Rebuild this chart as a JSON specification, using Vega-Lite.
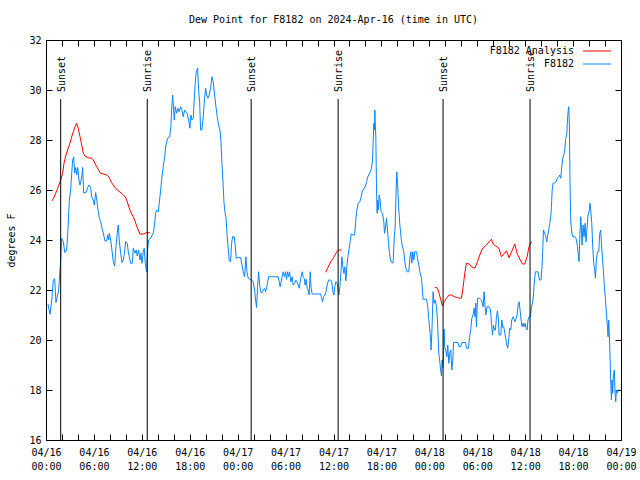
{
  "$schema": "https://vega.github.io/schema/vega-lite/v6.json",
  "autosize": "none",
  "width": 575,
  "height": 400,
  "padding": {"left": 46, "top": 40, "right": 19, "bottom": 40},
  "background": "white",
  "title": {"text": "Dew Point for F8182 on 2024-Apr-16 (time in UTC)", "font": "DejaVu Sans Mono", "fontSize": 10, "fontWeight": "normal", "anchor": "middle", "offset": 10, "color": "black"},
  "config": {
    "view": {"stroke": "black", "strokeWidth": 1},
    "axis": {"domainColor": "black", "tickColor": "black", "labelColor": "black", "titleColor": "black", "labelFont": "DejaVu Sans Mono", "labelFontSize": 10, "titleFont": "DejaVu Sans Mono", "titleFontSize": 10, "titleFontWeight": "normal", "grid": false, "labelOverlap": false, "labelFlush": false, "labelBound": false}
  },
  "resolve": {"axis": {"x": "independent", "y": "independent"}},
  "layer": [
    {
      "data": {"values": [
        {"hour":0.25,"dp":21.44,"series":"F8182","seg":"b"},
        {"hour":0.50,"dp":21.03,"series":"F8182","seg":"b"},
        {"hour":0.75,"dp":21.68,"series":"F8182","seg":"b"},
        {"hour":0.91,"dp":22.40,"series":"F8182","seg":"b"},
        {"hour":1.09,"dp":22.45,"series":"F8182","seg":"b"},
        {"hour":1.25,"dp":21.50,"series":"F8182","seg":"b"},
        {"hour":1.41,"dp":21.73,"series":"F8182","seg":"b"},
        {"hour":1.59,"dp":22.00,"series":"F8182","seg":"b"},
        {"hour":1.66,"dp":22.36,"series":"F8182","seg":"b"},
        {"hour":1.84,"dp":23.20,"series":"F8182","seg":"b"},
        {"hour":1.96,"dp":24.07,"series":"F8182","seg":"b"},
        {"hour":2.17,"dp":23.93,"series":"F8182","seg":"b"},
        {"hour":2.34,"dp":23.50,"series":"F8182","seg":"b"},
        {"hour":2.59,"dp":23.60,"series":"F8182","seg":"b"},
        {"hour":2.75,"dp":24.40,"series":"F8182","seg":"b"},
        {"hour":2.92,"dp":25.60,"series":"F8182","seg":"b"},
        {"hour":3.09,"dp":26.00,"series":"F8182","seg":"b"},
        {"hour":3.22,"dp":26.67,"series":"F8182","seg":"b"},
        {"hour":3.34,"dp":27.20,"series":"F8182","seg":"b"},
        {"hour":3.47,"dp":27.33,"series":"F8182","seg":"b"},
        {"hour":3.59,"dp":26.68,"series":"F8182","seg":"b"},
        {"hour":3.72,"dp":26.90,"series":"F8182","seg":"b"},
        {"hour":3.84,"dp":26.60,"series":"F8182","seg":"b"},
        {"hour":3.97,"dp":26.90,"series":"F8182","seg":"b"},
        {"hour":4.13,"dp":26.40,"series":"F8182","seg":"b"},
        {"hour":4.26,"dp":26.20,"series":"F8182","seg":"b"},
        {"hour":4.47,"dp":26.50,"series":"F8182","seg":"b"},
        {"hour":4.59,"dp":26.90,"series":"F8182","seg":"b"},
        {"hour":4.72,"dp":25.88,"series":"F8182","seg":"b"},
        {"hour":5.01,"dp":25.90,"series":"F8182","seg":"b"},
        {"hour":5.22,"dp":26.10,"series":"F8182","seg":"b"},
        {"hour":5.38,"dp":26.20,"series":"F8182","seg":"b"},
        {"hour":5.59,"dp":26.10,"series":"F8182","seg":"b"},
        {"hour":5.72,"dp":25.73,"series":"F8182","seg":"b"},
        {"hour":5.92,"dp":25.60,"series":"F8182","seg":"b"},
        {"hour":6.05,"dp":25.40,"series":"F8182","seg":"b"},
        {"hour":6.22,"dp":25.90,"series":"F8182","seg":"b"},
        {"hour":6.38,"dp":25.55,"series":"F8182","seg":"b"},
        {"hour":6.55,"dp":25.13,"series":"F8182","seg":"b"},
        {"hour":6.67,"dp":24.90,"series":"F8182","seg":"b"},
        {"hour":6.85,"dp":24.73,"series":"F8182","seg":"b"},
        {"hour":7.01,"dp":24.48,"series":"F8182","seg":"b"},
        {"hour":7.17,"dp":24.28,"series":"F8182","seg":"b"},
        {"hour":7.38,"dp":23.96,"series":"F8182","seg":"b"},
        {"hour":7.60,"dp":23.96,"series":"F8182","seg":"b"},
        {"hour":7.72,"dp":24.20,"series":"F8182","seg":"b"},
        {"hour":7.85,"dp":24.00,"series":"F8182","seg":"b"},
        {"hour":7.92,"dp":24.27,"series":"F8182","seg":"b"},
        {"hour":8.10,"dp":24.00,"series":"F8182","seg":"b"},
        {"hour":8.26,"dp":23.60,"series":"F8182","seg":"b"},
        {"hour":8.42,"dp":23.13,"series":"F8182","seg":"b"},
        {"hour":8.60,"dp":22.96,"series":"F8182","seg":"b"},
        {"hour":8.76,"dp":23.73,"series":"F8182","seg":"b"},
        {"hour":8.92,"dp":24.27,"series":"F8182","seg":"b"},
        {"hour":9.05,"dp":24.60,"series":"F8182","seg":"b"},
        {"hour":9.17,"dp":24.00,"series":"F8182","seg":"b"},
        {"hour":9.35,"dp":23.47,"series":"F8182","seg":"b"},
        {"hour":9.51,"dp":23.10,"series":"F8182","seg":"b"},
        {"hour":9.67,"dp":23.20,"series":"F8182","seg":"b"},
        {"hour":9.85,"dp":23.53,"series":"F8182","seg":"b"},
        {"hour":9.97,"dp":23.93,"series":"F8182","seg":"b"},
        {"hour":10.18,"dp":23.87,"series":"F8182","seg":"b"},
        {"hour":10.30,"dp":23.53,"series":"F8182","seg":"b"},
        {"hour":10.43,"dp":23.33,"series":"F8182","seg":"b"},
        {"hour":10.60,"dp":23.07,"series":"F8182","seg":"b"},
        {"hour":10.80,"dp":23.07,"series":"F8182","seg":"b"},
        {"hour":10.93,"dp":23.67,"series":"F8182","seg":"b"},
        {"hour":11.14,"dp":23.47,"series":"F8182","seg":"b"},
        {"hour":11.30,"dp":23.60,"series":"F8182","seg":"b"},
        {"hour":11.43,"dp":23.36,"series":"F8182","seg":"b"},
        {"hour":11.60,"dp":23.60,"series":"F8182","seg":"b"},
        {"hour":11.76,"dp":23.20,"series":"F8182","seg":"b"},
        {"hour":11.89,"dp":23.47,"series":"F8182","seg":"b"},
        {"hour":12.02,"dp":23.07,"series":"F8182","seg":"b"},
        {"hour":12.18,"dp":23.53,"series":"F8182","seg":"b"},
        {"hour":12.30,"dp":23.67,"series":"F8182","seg":"b"},
        {"hour":12.43,"dp":23.07,"series":"F8182","seg":"b"},
        {"hour":12.60,"dp":22.73,"series":"F8182","seg":"b"},
        {"hour":12.68,"dp":23.47,"series":"F8182","seg":"b"},
        {"hour":12.85,"dp":24.00,"series":"F8182","seg":"b"},
        {"hour":13.10,"dp":24.07,"series":"F8182","seg":"b"},
        {"hour":13.43,"dp":24.27,"series":"F8182","seg":"b"},
        {"hour":13.56,"dp":24.53,"series":"F8182","seg":"b"},
        {"hour":13.73,"dp":25.07,"series":"F8182","seg":"b"},
        {"hour":13.85,"dp":25.20,"series":"F8182","seg":"b"},
        {"hour":14.06,"dp":25.13,"series":"F8182","seg":"b"},
        {"hour":14.18,"dp":25.47,"series":"F8182","seg":"b"},
        {"hour":14.36,"dp":26.00,"series":"F8182","seg":"b"},
        {"hour":14.52,"dp":26.53,"series":"F8182","seg":"b"},
        {"hour":14.68,"dp":26.93,"series":"F8182","seg":"b"},
        {"hour":14.86,"dp":27.33,"series":"F8182","seg":"b"},
        {"hour":15.02,"dp":27.80,"series":"F8182","seg":"b"},
        {"hour":15.23,"dp":28.07,"series":"F8182","seg":"b"},
        {"hour":15.48,"dp":28.13,"series":"F8182","seg":"b"},
        {"hour":15.64,"dp":28.53,"series":"F8182","seg":"b"},
        {"hour":15.73,"dp":29.20,"series":"F8182","seg":"b"},
        {"hour":15.86,"dp":29.80,"series":"F8182","seg":"b"},
        {"hour":15.93,"dp":29.50,"series":"F8182","seg":"b"},
        {"hour":16.06,"dp":28.80,"series":"F8182","seg":"b"},
        {"hour":16.18,"dp":29.33,"series":"F8182","seg":"b"},
        {"hour":16.36,"dp":29.07,"series":"F8182","seg":"b"},
        {"hour":16.52,"dp":29.27,"series":"F8182","seg":"b"},
        {"hour":16.68,"dp":29.13,"series":"F8182","seg":"b"},
        {"hour":16.86,"dp":29.33,"series":"F8182","seg":"b"},
        {"hour":17.02,"dp":29.20,"series":"F8182","seg":"b"},
        {"hour":17.18,"dp":28.93,"series":"F8182","seg":"b"},
        {"hour":17.36,"dp":29.20,"series":"F8182","seg":"b"},
        {"hour":17.52,"dp":29.13,"series":"F8182","seg":"b"},
        {"hour":17.68,"dp":29.07,"series":"F8182","seg":"b"},
        {"hour":17.86,"dp":28.80,"series":"F8182","seg":"b"},
        {"hour":18.02,"dp":28.47,"series":"F8182","seg":"b"},
        {"hour":18.15,"dp":29.00,"series":"F8182","seg":"b"},
        {"hour":18.27,"dp":28.80,"series":"F8182","seg":"b"},
        {"hour":18.44,"dp":28.87,"series":"F8182","seg":"b"},
        {"hour":18.56,"dp":29.60,"series":"F8182","seg":"b"},
        {"hour":18.69,"dp":30.27,"series":"F8182","seg":"b"},
        {"hour":18.81,"dp":30.73,"series":"F8182","seg":"b"},
        {"hour":18.99,"dp":30.87,"series":"F8182","seg":"b"},
        {"hour":19.11,"dp":30.00,"series":"F8182","seg":"b"},
        {"hour":19.24,"dp":29.50,"series":"F8182","seg":"b"},
        {"hour":19.36,"dp":28.40,"series":"F8182","seg":"b"},
        {"hour":19.52,"dp":28.40,"series":"F8182","seg":"b"},
        {"hour":19.69,"dp":28.93,"series":"F8182","seg":"b"},
        {"hour":19.86,"dp":29.67,"series":"F8182","seg":"b"},
        {"hour":19.99,"dp":30.07,"series":"F8182","seg":"b"},
        {"hour":20.11,"dp":29.80,"series":"F8182","seg":"b"},
        {"hour":20.28,"dp":29.67,"series":"F8182","seg":"b"},
        {"hour":20.44,"dp":29.80,"series":"F8182","seg":"b"},
        {"hour":20.61,"dp":30.07,"series":"F8182","seg":"b"},
        {"hour":20.78,"dp":30.53,"series":"F8182","seg":"b"},
        {"hour":20.94,"dp":30.33,"series":"F8182","seg":"b"},
        {"hour":21.11,"dp":29.80,"series":"F8182","seg":"b"},
        {"hour":21.28,"dp":29.33,"series":"F8182","seg":"b"},
        {"hour":21.44,"dp":28.93,"series":"F8182","seg":"b"},
        {"hour":21.61,"dp":28.60,"series":"F8182","seg":"b"},
        {"hour":21.78,"dp":28.40,"series":"F8182","seg":"b"},
        {"hour":21.90,"dp":28.00,"series":"F8182","seg":"b"},
        {"hour":22.03,"dp":27.07,"series":"F8182","seg":"b"},
        {"hour":22.15,"dp":26.40,"series":"F8182","seg":"b"},
        {"hour":22.28,"dp":25.53,"series":"F8182","seg":"b"},
        {"hour":22.40,"dp":25.13,"series":"F8182","seg":"b"},
        {"hour":22.53,"dp":24.93,"series":"F8182","seg":"b"},
        {"hour":22.69,"dp":24.13,"series":"F8182","seg":"b"},
        {"hour":22.82,"dp":23.67,"series":"F8182","seg":"b"},
        {"hour":22.94,"dp":23.20,"series":"F8182","seg":"b"},
        {"hour":23.12,"dp":23.13,"series":"F8182","seg":"b"},
        {"hour":23.24,"dp":23.87,"series":"F8182","seg":"b"},
        {"hour":23.37,"dp":24.13,"series":"F8182","seg":"b"},
        {"hour":23.57,"dp":24.13,"series":"F8182","seg":"b"},
        {"hour":23.69,"dp":23.80,"series":"F8182","seg":"b"},
        {"hour":23.82,"dp":23.27,"series":"F8182","seg":"b"},
        {"hour":24.07,"dp":23.30,"series":"F8182","seg":"b"},
        {"hour":24.37,"dp":23.30,"series":"F8182","seg":"b"},
        {"hour":24.69,"dp":22.73,"series":"F8182","seg":"b"},
        {"hour":24.87,"dp":22.53,"series":"F8182","seg":"b"},
        {"hour":25.03,"dp":23.33,"series":"F8182","seg":"b"},
        {"hour":25.16,"dp":22.73,"series":"F8182","seg":"b"},
        {"hour":25.32,"dp":22.47,"series":"F8182","seg":"b"},
        {"hour":25.53,"dp":22.43,"series":"F8182","seg":"b"},
        {"hour":25.74,"dp":22.40,"series":"F8182","seg":"b"},
        {"hour":25.94,"dp":22.33,"series":"F8182","seg":"b"},
        {"hour":26.12,"dp":22.00,"series":"F8182","seg":"b"},
        {"hour":26.24,"dp":21.60,"series":"F8182","seg":"b"},
        {"hour":26.37,"dp":21.30,"series":"F8182","seg":"b"},
        {"hour":26.49,"dp":22.13,"series":"F8182","seg":"b"},
        {"hour":26.62,"dp":22.73,"series":"F8182","seg":"b"},
        {"hour":26.78,"dp":22.13,"series":"F8182","seg":"b"},
        {"hour":26.91,"dp":21.90,"series":"F8182","seg":"b"},
        {"hour":27.07,"dp":21.90,"series":"F8182","seg":"b"},
        {"hour":27.20,"dp":22.00,"series":"F8182","seg":"b"},
        {"hour":27.37,"dp":22.07,"series":"F8182","seg":"b"},
        {"hour":27.50,"dp":21.93,"series":"F8182","seg":"b"},
        {"hour":27.62,"dp":22.07,"series":"F8182","seg":"b"},
        {"hour":27.75,"dp":22.33,"series":"F8182","seg":"b"},
        {"hour":27.87,"dp":22.53,"series":"F8182","seg":"b"},
        {"hour":28.29,"dp":22.53,"series":"F8182","seg":"b"},
        {"hour":28.66,"dp":22.53,"series":"F8182","seg":"b"},
        {"hour":29.07,"dp":22.53,"series":"F8182","seg":"b"},
        {"hour":29.20,"dp":22.33,"series":"F8182","seg":"b"},
        {"hour":29.32,"dp":22.13,"series":"F8182","seg":"b"},
        {"hour":29.45,"dp":22.33,"series":"F8182","seg":"b"},
        {"hour":29.57,"dp":22.53,"series":"F8182","seg":"b"},
        {"hour":29.70,"dp":22.73,"series":"F8182","seg":"b"},
        {"hour":29.87,"dp":22.53,"series":"F8182","seg":"b"},
        {"hour":30.00,"dp":22.73,"series":"F8182","seg":"b"},
        {"hour":30.12,"dp":22.43,"series":"F8182","seg":"b"},
        {"hour":30.25,"dp":22.73,"series":"F8182","seg":"b"},
        {"hour":30.38,"dp":22.53,"series":"F8182","seg":"b"},
        {"hour":30.50,"dp":22.73,"series":"F8182","seg":"b"},
        {"hour":30.66,"dp":22.33,"series":"F8182","seg":"b"},
        {"hour":30.83,"dp":22.53,"series":"F8182","seg":"b"},
        {"hour":30.95,"dp":22.20,"series":"F8182","seg":"b"},
        {"hour":31.13,"dp":22.27,"series":"F8182","seg":"b"},
        {"hour":31.29,"dp":22.40,"series":"F8182","seg":"b"},
        {"hour":31.41,"dp":22.33,"series":"F8182","seg":"b"},
        {"hour":31.58,"dp":22.20,"series":"F8182","seg":"b"},
        {"hour":31.70,"dp":22.07,"series":"F8182","seg":"b"},
        {"hour":31.83,"dp":22.33,"series":"F8182","seg":"b"},
        {"hour":31.95,"dp":22.53,"series":"F8182","seg":"b"},
        {"hour":32.08,"dp":22.73,"series":"F8182","seg":"b"},
        {"hour":32.20,"dp":22.53,"series":"F8182","seg":"b"},
        {"hour":32.33,"dp":22.47,"series":"F8182","seg":"b"},
        {"hour":32.45,"dp":22.20,"series":"F8182","seg":"b"},
        {"hour":32.58,"dp":22.43,"series":"F8182","seg":"b"},
        {"hour":32.70,"dp":22.07,"series":"F8182","seg":"b"},
        {"hour":32.83,"dp":22.00,"series":"F8182","seg":"b"},
        {"hour":32.95,"dp":21.80,"series":"F8182","seg":"b"},
        {"hour":33.08,"dp":22.73,"series":"F8182","seg":"b"},
        {"hour":33.20,"dp":22.07,"series":"F8182","seg":"b"},
        {"hour":33.33,"dp":21.84,"series":"F8182","seg":"b"},
        {"hour":33.67,"dp":21.84,"series":"F8182","seg":"b"},
        {"hour":34.08,"dp":21.84,"series":"F8182","seg":"b"},
        {"hour":34.38,"dp":21.84,"series":"F8182","seg":"b"},
        {"hour":34.51,"dp":21.70,"series":"F8182","seg":"b"},
        {"hour":34.63,"dp":21.53,"series":"F8182","seg":"b"},
        {"hour":34.76,"dp":21.73,"series":"F8182","seg":"b"},
        {"hour":34.92,"dp":21.80,"series":"F8182","seg":"b"},
        {"hour":35.04,"dp":21.90,"series":"F8182","seg":"b"},
        {"hour":35.21,"dp":22.20,"series":"F8182","seg":"b"},
        {"hour":35.38,"dp":22.40,"series":"F8182","seg":"b"},
        {"hour":35.63,"dp":22.40,"series":"F8182","seg":"b"},
        {"hour":35.79,"dp":22.33,"series":"F8182","seg":"b"},
        {"hour":35.92,"dp":21.93,"series":"F8182","seg":"b"},
        {"hour":36.05,"dp":21.80,"series":"F8182","seg":"b"},
        {"hour":36.17,"dp":22.13,"series":"F8182","seg":"b"},
        {"hour":36.30,"dp":22.33,"series":"F8182","seg":"b"},
        {"hour":36.46,"dp":22.27,"series":"F8182","seg":"b"},
        {"hour":36.58,"dp":22.00,"series":"F8182","seg":"b"},
        {"hour":36.67,"dp":21.80,"series":"F8182","seg":"b"},
        {"hour":36.80,"dp":22.13,"series":"F8182","seg":"b"},
        {"hour":36.92,"dp":22.67,"series":"F8182","seg":"b"},
        {"hour":37.05,"dp":23.33,"series":"F8182","seg":"b"},
        {"hour":37.17,"dp":22.93,"series":"F8182","seg":"b"},
        {"hour":37.30,"dp":22.67,"series":"F8182","seg":"b"},
        {"hour":37.42,"dp":22.93,"series":"F8182","seg":"b"},
        {"hour":37.55,"dp":22.37,"series":"F8182","seg":"b"},
        {"hour":37.67,"dp":22.93,"series":"F8182","seg":"b"},
        {"hour":37.80,"dp":23.33,"series":"F8182","seg":"b"},
        {"hour":37.92,"dp":23.60,"series":"F8182","seg":"b"},
        {"hour":38.09,"dp":23.93,"series":"F8182","seg":"b"},
        {"hour":38.21,"dp":24.24,"series":"F8182","seg":"b"},
        {"hour":38.46,"dp":24.20,"series":"F8182","seg":"b"},
        {"hour":38.64,"dp":24.20,"series":"F8182","seg":"b"},
        {"hour":38.76,"dp":24.67,"series":"F8182","seg":"b"},
        {"hour":38.89,"dp":25.13,"series":"F8182","seg":"b"},
        {"hour":39.09,"dp":25.47,"series":"F8182","seg":"b"},
        {"hour":39.30,"dp":25.53,"series":"F8182","seg":"b"},
        {"hour":39.46,"dp":25.73,"series":"F8182","seg":"b"},
        {"hour":39.64,"dp":26.00,"series":"F8182","seg":"b"},
        {"hour":39.80,"dp":26.03,"series":"F8182","seg":"b"},
        {"hour":39.96,"dp":26.13,"series":"F8182","seg":"b"},
        {"hour":40.14,"dp":26.33,"series":"F8182","seg":"b"},
        {"hour":40.30,"dp":26.53,"series":"F8182","seg":"b"},
        {"hour":40.55,"dp":26.69,"series":"F8182","seg":"b"},
        {"hour":40.71,"dp":26.80,"series":"F8182","seg":"b"},
        {"hour":40.89,"dp":27.20,"series":"F8182","seg":"b"},
        {"hour":40.96,"dp":27.87,"series":"F8182","seg":"b"},
        {"hour":41.05,"dp":28.67,"series":"F8182","seg":"b"},
        {"hour":41.14,"dp":28.40,"series":"F8182","seg":"b"},
        {"hour":41.18,"dp":29.20,"series":"F8182","seg":"b"},
        {"hour":41.21,"dp":28.80,"series":"F8182","seg":"b"},
        {"hour":41.30,"dp":28.13,"series":"F8182","seg":"b"},
        {"hour":41.39,"dp":26.00,"series":"F8182","seg":"b"},
        {"hour":41.46,"dp":25.07,"series":"F8182","seg":"b"},
        {"hour":41.55,"dp":25.60,"series":"F8182","seg":"b"},
        {"hour":41.64,"dp":25.20,"series":"F8182","seg":"b"},
        {"hour":41.71,"dp":25.80,"series":"F8182","seg":"b"},
        {"hour":41.84,"dp":25.60,"series":"F8182","seg":"b"},
        {"hour":41.96,"dp":25.13,"series":"F8182","seg":"b"},
        {"hour":42.14,"dp":25.07,"series":"F8182","seg":"b"},
        {"hour":42.30,"dp":24.73,"series":"F8182","seg":"b"},
        {"hour":42.39,"dp":24.27,"series":"F8182","seg":"b"},
        {"hour":42.51,"dp":24.47,"series":"F8182","seg":"b"},
        {"hour":42.64,"dp":24.87,"series":"F8182","seg":"b"},
        {"hour":42.76,"dp":24.40,"series":"F8182","seg":"b"},
        {"hour":42.89,"dp":23.90,"series":"F8182","seg":"b"},
        {"hour":43.01,"dp":23.47,"series":"F8182","seg":"b"},
        {"hour":43.14,"dp":23.20,"series":"F8182","seg":"b"},
        {"hour":43.30,"dp":23.09,"series":"F8182","seg":"b"},
        {"hour":43.47,"dp":23.09,"series":"F8182","seg":"b"},
        {"hour":43.59,"dp":24.00,"series":"F8182","seg":"b"},
        {"hour":43.72,"dp":24.53,"series":"F8182","seg":"b"},
        {"hour":43.84,"dp":26.00,"series":"F8182","seg":"b"},
        {"hour":43.93,"dp":26.73,"series":"F8182","seg":"b"},
        {"hour":44.02,"dp":26.27,"series":"F8182","seg":"b"},
        {"hour":44.14,"dp":25.40,"series":"F8182","seg":"b"},
        {"hour":44.31,"dp":24.60,"series":"F8182","seg":"b"},
        {"hour":44.47,"dp":24.07,"series":"F8182","seg":"b"},
        {"hour":44.59,"dp":23.80,"series":"F8182","seg":"b"},
        {"hour":44.81,"dp":23.53,"series":"F8182","seg":"b"},
        {"hour":44.93,"dp":23.13,"series":"F8182","seg":"b"},
        {"hour":45.06,"dp":22.87,"series":"F8182","seg":"b"},
        {"hour":45.22,"dp":22.73,"series":"F8182","seg":"b"},
        {"hour":45.43,"dp":22.73,"series":"F8182","seg":"b"},
        {"hour":45.56,"dp":23.27,"series":"F8182","seg":"b"},
        {"hour":45.68,"dp":23.53,"series":"F8182","seg":"b"},
        {"hour":45.81,"dp":23.07,"series":"F8182","seg":"b"},
        {"hour":45.93,"dp":23.53,"series":"F8182","seg":"b"},
        {"hour":46.06,"dp":23.20,"series":"F8182","seg":"b"},
        {"hour":46.18,"dp":23.53,"series":"F8182","seg":"b"},
        {"hour":46.40,"dp":23.53,"series":"F8182","seg":"b"},
        {"hour":46.52,"dp":23.27,"series":"F8182","seg":"b"},
        {"hour":46.68,"dp":23.00,"series":"F8182","seg":"b"},
        {"hour":46.81,"dp":22.73,"series":"F8182","seg":"b"},
        {"hour":47.02,"dp":22.47,"series":"F8182","seg":"b"},
        {"hour":47.15,"dp":21.93,"series":"F8182","seg":"b"},
        {"hour":47.22,"dp":21.63,"series":"F8182","seg":"b"},
        {"hour":47.65,"dp":21.63,"series":"F8182","seg":"b"},
        {"hour":47.81,"dp":21.33,"series":"F8182","seg":"b"},
        {"hour":47.90,"dp":20.93,"series":"F8182","seg":"b"},
        {"hour":48.02,"dp":20.53,"series":"F8182","seg":"b"},
        {"hour":48.10,"dp":20.27,"series":"F8182","seg":"b"},
        {"hour":48.19,"dp":19.87,"series":"F8182","seg":"b"},
        {"hour":48.22,"dp":19.60,"series":"F8182","seg":"b"},
        {"hour":48.31,"dp":20.27,"series":"F8182","seg":"b"},
        {"hour":48.40,"dp":21.07,"series":"F8182","seg":"b"},
        {"hour":48.47,"dp":21.93,"series":"F8182","seg":"b"},
        {"hour":48.60,"dp":21.47,"series":"F8182","seg":"b"},
        {"hour":48.72,"dp":21.60,"series":"F8182","seg":"b"},
        {"hour":48.90,"dp":21.33,"series":"F8182","seg":"b"},
        {"hour":49.02,"dp":20.80,"series":"F8182","seg":"b"},
        {"hour":49.10,"dp":20.13,"series":"F8182","seg":"b"},
        {"hour":49.19,"dp":19.47,"series":"F8182","seg":"b"},
        {"hour":49.31,"dp":19.13,"series":"F8182","seg":"b"},
        {"hour":49.44,"dp":18.73,"series":"F8182","seg":"b"},
        {"hour":49.52,"dp":18.56,"series":"F8182","seg":"b"},
        {"hour":49.60,"dp":19.20,"series":"F8182","seg":"b"},
        {"hour":49.69,"dp":18.90,"series":"F8182","seg":"b"},
        {"hour":49.77,"dp":19.30,"series":"F8182","seg":"b"},
        {"hour":49.85,"dp":20.43,"series":"F8182","seg":"b"},
        {"hour":49.94,"dp":19.70,"series":"F8182","seg":"b"},
        {"hour":50.06,"dp":19.60,"series":"F8182","seg":"b"},
        {"hour":50.19,"dp":19.33,"series":"F8182","seg":"b"},
        {"hour":50.31,"dp":19.80,"series":"F8182","seg":"b"},
        {"hour":50.44,"dp":19.07,"series":"F8182","seg":"b"},
        {"hour":50.56,"dp":19.47,"series":"F8182","seg":"b"},
        {"hour":50.69,"dp":19.60,"series":"F8182","seg":"b"},
        {"hour":50.81,"dp":18.80,"series":"F8182","seg":"b"},
        {"hour":50.94,"dp":19.20,"series":"F8182","seg":"b"},
        {"hour":51.03,"dp":19.90,"series":"F8182","seg":"b"},
        {"hour":51.28,"dp":19.90,"series":"F8182","seg":"b"},
        {"hour":51.56,"dp":19.90,"series":"F8182","seg":"b"},
        {"hour":51.73,"dp":19.73,"series":"F8182","seg":"b"},
        {"hour":51.90,"dp":19.73,"series":"F8182","seg":"b"},
        {"hour":52.07,"dp":19.90,"series":"F8182","seg":"b"},
        {"hour":52.32,"dp":19.90,"series":"F8182","seg":"b"},
        {"hour":52.53,"dp":19.90,"series":"F8182","seg":"b"},
        {"hour":52.65,"dp":19.67,"series":"F8182","seg":"b"},
        {"hour":52.90,"dp":19.67,"series":"F8182","seg":"b"},
        {"hour":53.03,"dp":20.10,"series":"F8182","seg":"b"},
        {"hour":53.19,"dp":20.43,"series":"F8182","seg":"b"},
        {"hour":53.32,"dp":20.87,"series":"F8182","seg":"b"},
        {"hour":53.48,"dp":21.00,"series":"F8182","seg":"b"},
        {"hour":53.61,"dp":21.27,"series":"F8182","seg":"b"},
        {"hour":53.73,"dp":20.93,"series":"F8182","seg":"b"},
        {"hour":53.82,"dp":21.47,"series":"F8182","seg":"b"},
        {"hour":53.90,"dp":20.53,"series":"F8182","seg":"b"},
        {"hour":54.03,"dp":21.67,"series":"F8182","seg":"b"},
        {"hour":54.32,"dp":21.67,"series":"F8182","seg":"b"},
        {"hour":54.53,"dp":21.60,"series":"F8182","seg":"b"},
        {"hour":54.73,"dp":21.33,"series":"F8182","seg":"b"},
        {"hour":54.86,"dp":21.93,"series":"F8182","seg":"b"},
        {"hour":54.94,"dp":21.53,"series":"F8182","seg":"b"},
        {"hour":55.07,"dp":21.00,"series":"F8182","seg":"b"},
        {"hour":55.23,"dp":21.33,"series":"F8182","seg":"b"},
        {"hour":55.48,"dp":21.33,"series":"F8182","seg":"b"},
        {"hour":55.66,"dp":21.20,"series":"F8182","seg":"b"},
        {"hour":55.78,"dp":20.67,"series":"F8182","seg":"b"},
        {"hour":55.91,"dp":20.20,"series":"F8182","seg":"b"},
        {"hour":56.03,"dp":20.60,"series":"F8182","seg":"b"},
        {"hour":56.16,"dp":20.40,"series":"F8182","seg":"b"},
        {"hour":56.28,"dp":20.40,"series":"F8182","seg":"b"},
        {"hour":56.41,"dp":20.93,"series":"F8182","seg":"b"},
        {"hour":56.53,"dp":21.17,"series":"F8182","seg":"b"},
        {"hour":56.66,"dp":20.80,"series":"F8182","seg":"b"},
        {"hour":56.73,"dp":20.20,"series":"F8182","seg":"b"},
        {"hour":56.95,"dp":20.20,"series":"F8182","seg":"b"},
        {"hour":57.07,"dp":20.80,"series":"F8182","seg":"b"},
        {"hour":57.20,"dp":20.50,"series":"F8182","seg":"b"},
        {"hour":57.32,"dp":20.53,"series":"F8182","seg":"b"},
        {"hour":57.45,"dp":20.27,"series":"F8182","seg":"b"},
        {"hour":57.57,"dp":20.07,"series":"F8182","seg":"b"},
        {"hour":57.70,"dp":19.80,"series":"F8182","seg":"b"},
        {"hour":57.82,"dp":19.67,"series":"F8182","seg":"b"},
        {"hour":57.95,"dp":20.07,"series":"F8182","seg":"b"},
        {"hour":58.07,"dp":20.47,"series":"F8182","seg":"b"},
        {"hour":58.20,"dp":20.40,"series":"F8182","seg":"b"},
        {"hour":58.32,"dp":20.80,"series":"F8182","seg":"b"},
        {"hour":58.49,"dp":20.93,"series":"F8182","seg":"b"},
        {"hour":58.61,"dp":20.83,"series":"F8182","seg":"b"},
        {"hour":58.74,"dp":20.73,"series":"F8182","seg":"b"},
        {"hour":58.86,"dp":20.87,"series":"F8182","seg":"b"},
        {"hour":58.99,"dp":21.00,"series":"F8182","seg":"b"},
        {"hour":59.11,"dp":21.40,"series":"F8182","seg":"b"},
        {"hour":59.24,"dp":21.53,"series":"F8182","seg":"b"},
        {"hour":59.36,"dp":21.20,"series":"F8182","seg":"b"},
        {"hour":59.49,"dp":20.80,"series":"F8182","seg":"b"},
        {"hour":59.61,"dp":20.53,"series":"F8182","seg":"b"},
        {"hour":59.74,"dp":20.67,"series":"F8182","seg":"b"},
        {"hour":59.86,"dp":20.53,"series":"F8182","seg":"b"},
        {"hour":59.99,"dp":20.67,"series":"F8182","seg":"b"},
        {"hour":60.11,"dp":20.47,"series":"F8182","seg":"b"},
        {"hour":60.24,"dp":20.40,"series":"F8182","seg":"b"},
        {"hour":60.36,"dp":20.80,"series":"F8182","seg":"b"},
        {"hour":60.49,"dp":20.93,"series":"F8182","seg":"b"},
        {"hour":60.66,"dp":20.93,"series":"F8182","seg":"b"},
        {"hour":60.79,"dp":21.33,"series":"F8182","seg":"b"},
        {"hour":60.91,"dp":21.47,"series":"F8182","seg":"b"},
        {"hour":61.04,"dp":21.80,"series":"F8182","seg":"b"},
        {"hour":61.16,"dp":22.40,"series":"F8182","seg":"b"},
        {"hour":61.29,"dp":22.73,"series":"F8182","seg":"b"},
        {"hour":61.61,"dp":22.73,"series":"F8182","seg":"b"},
        {"hour":61.79,"dp":22.40,"series":"F8182","seg":"b"},
        {"hour":61.99,"dp":22.40,"series":"F8182","seg":"b"},
        {"hour":62.11,"dp":22.93,"series":"F8182","seg":"b"},
        {"hour":62.20,"dp":23.60,"series":"F8182","seg":"b"},
        {"hour":62.29,"dp":24.40,"series":"F8182","seg":"b"},
        {"hour":62.45,"dp":24.27,"series":"F8182","seg":"b"},
        {"hour":62.58,"dp":24.13,"series":"F8182","seg":"b"},
        {"hour":62.70,"dp":23.93,"series":"F8182","seg":"b"},
        {"hour":62.83,"dp":24.20,"series":"F8182","seg":"b"},
        {"hour":62.95,"dp":24.40,"series":"F8182","seg":"b"},
        {"hour":63.08,"dp":24.67,"series":"F8182","seg":"b"},
        {"hour":63.20,"dp":24.93,"series":"F8182","seg":"b"},
        {"hour":63.29,"dp":25.33,"series":"F8182","seg":"b"},
        {"hour":63.37,"dp":25.93,"series":"F8182","seg":"b"},
        {"hour":63.49,"dp":26.27,"series":"F8182","seg":"b"},
        {"hour":63.70,"dp":26.29,"series":"F8182","seg":"b"},
        {"hour":63.87,"dp":26.33,"series":"F8182","seg":"b"},
        {"hour":64.04,"dp":26.47,"series":"F8182","seg":"b"},
        {"hour":64.21,"dp":26.53,"series":"F8182","seg":"b"},
        {"hour":64.33,"dp":26.60,"series":"F8182","seg":"b"},
        {"hour":64.46,"dp":26.47,"series":"F8182","seg":"b"},
        {"hour":64.58,"dp":26.93,"series":"F8182","seg":"b"},
        {"hour":64.71,"dp":27.27,"series":"F8182","seg":"b"},
        {"hour":64.83,"dp":27.40,"series":"F8182","seg":"b"},
        {"hour":64.96,"dp":27.60,"series":"F8182","seg":"b"},
        {"hour":65.08,"dp":28.07,"series":"F8182","seg":"b"},
        {"hour":65.21,"dp":28.20,"series":"F8182","seg":"b"},
        {"hour":65.29,"dp":28.73,"series":"F8182","seg":"b"},
        {"hour":65.37,"dp":29.13,"series":"F8182","seg":"b"},
        {"hour":65.46,"dp":29.33,"series":"F8182","seg":"b"},
        {"hour":65.54,"dp":28.53,"series":"F8182","seg":"b"},
        {"hour":65.62,"dp":26.13,"series":"F8182","seg":"b"},
        {"hour":65.71,"dp":24.73,"series":"F8182","seg":"b"},
        {"hour":65.83,"dp":24.33,"series":"F8182","seg":"b"},
        {"hour":65.96,"dp":24.13,"series":"F8182","seg":"b"},
        {"hour":66.21,"dp":24.13,"series":"F8182","seg":"b"},
        {"hour":66.37,"dp":24.07,"series":"F8182","seg":"b"},
        {"hour":66.55,"dp":23.73,"series":"F8182","seg":"b"},
        {"hour":66.67,"dp":23.33,"series":"F8182","seg":"b"},
        {"hour":66.75,"dp":23.13,"series":"F8182","seg":"b"},
        {"hour":66.83,"dp":24.00,"series":"F8182","seg":"b"},
        {"hour":66.96,"dp":24.93,"series":"F8182","seg":"b"},
        {"hour":67.05,"dp":24.40,"series":"F8182","seg":"b"},
        {"hour":67.12,"dp":23.80,"series":"F8182","seg":"b"},
        {"hour":67.25,"dp":24.60,"series":"F8182","seg":"b"},
        {"hour":67.37,"dp":24.13,"series":"F8182","seg":"b"},
        {"hour":67.50,"dp":24.67,"series":"F8182","seg":"b"},
        {"hour":67.62,"dp":23.93,"series":"F8182","seg":"b"},
        {"hour":67.75,"dp":24.47,"series":"F8182","seg":"b"},
        {"hour":67.87,"dp":25.00,"series":"F8182","seg":"b"},
        {"hour":68.00,"dp":25.13,"series":"F8182","seg":"b"},
        {"hour":68.12,"dp":25.47,"series":"F8182","seg":"b"},
        {"hour":68.21,"dp":25.20,"series":"F8182","seg":"b"},
        {"hour":68.34,"dp":24.67,"series":"F8182","seg":"b"},
        {"hour":68.46,"dp":23.73,"series":"F8182","seg":"b"},
        {"hour":68.59,"dp":23.07,"series":"F8182","seg":"b"},
        {"hour":68.71,"dp":22.80,"series":"F8182","seg":"b"},
        {"hour":68.80,"dp":22.47,"series":"F8182","seg":"b"},
        {"hour":68.92,"dp":23.20,"series":"F8182","seg":"b"},
        {"hour":69.05,"dp":23.53,"series":"F8182","seg":"b"},
        {"hour":69.21,"dp":23.53,"series":"F8182","seg":"b"},
        {"hour":69.34,"dp":24.27,"series":"F8182","seg":"b"},
        {"hour":69.46,"dp":24.40,"series":"F8182","seg":"b"},
        {"hour":69.55,"dp":23.87,"series":"F8182","seg":"b"},
        {"hour":69.67,"dp":23.33,"series":"F8182","seg":"b"},
        {"hour":69.80,"dp":22.73,"series":"F8182","seg":"b"},
        {"hour":69.92,"dp":22.13,"series":"F8182","seg":"b"},
        {"hour":70.05,"dp":21.67,"series":"F8182","seg":"b"},
        {"hour":70.17,"dp":21.07,"series":"F8182","seg":"b"},
        {"hour":70.30,"dp":20.53,"series":"F8182","seg":"b"},
        {"hour":70.38,"dp":20.13,"series":"F8182","seg":"b"},
        {"hour":70.46,"dp":20.80,"series":"F8182","seg":"b"},
        {"hour":70.55,"dp":20.13,"series":"F8182","seg":"b"},
        {"hour":70.63,"dp":19.33,"series":"F8182","seg":"b"},
        {"hour":70.71,"dp":18.40,"series":"F8182","seg":"b"},
        {"hour":70.80,"dp":17.60,"series":"F8182","seg":"b"},
        {"hour":70.88,"dp":18.40,"series":"F8182","seg":"b"},
        {"hour":70.96,"dp":17.87,"series":"F8182","seg":"b"},
        {"hour":71.05,"dp":18.60,"series":"F8182","seg":"b"},
        {"hour":71.17,"dp":18.80,"series":"F8182","seg":"b"},
        {"hour":71.25,"dp":17.93,"series":"F8182","seg":"b"},
        {"hour":71.34,"dp":17.53,"series":"F8182","seg":"b"},
        {"hour":71.42,"dp":18.00,"series":"F8182","seg":"b"},
        {"hour":71.55,"dp":17.87,"series":"F8182","seg":"b"},
        {"hour":71.67,"dp":18.00,"series":"F8182","seg":"b"},
        {"hour":71.83,"dp":18.00,"series":"F8182","seg":"b"},
        {"hour":0.79,"dp":25.57,"series":"F8182 Analysis","seg":"a1"},
        {"hour":1.13,"dp":25.80,"series":"F8182 Analysis","seg":"a1"},
        {"hour":1.54,"dp":26.13,"series":"F8182 Analysis","seg":"a1"},
        {"hour":1.84,"dp":26.40,"series":"F8182 Analysis","seg":"a1"},
        {"hour":2.09,"dp":26.67,"series":"F8182 Analysis","seg":"a1"},
        {"hour":2.25,"dp":27.07,"series":"F8182 Analysis","seg":"a1"},
        {"hour":2.50,"dp":27.40,"series":"F8182 Analysis","seg":"a1"},
        {"hour":2.79,"dp":27.67,"series":"F8182 Analysis","seg":"a1"},
        {"hour":3.00,"dp":27.87,"series":"F8182 Analysis","seg":"a1"},
        {"hour":3.22,"dp":28.13,"series":"F8182 Analysis","seg":"a1"},
        {"hour":3.42,"dp":28.33,"series":"F8182 Analysis","seg":"a1"},
        {"hour":3.63,"dp":28.53,"series":"F8182 Analysis","seg":"a1"},
        {"hour":3.84,"dp":28.67,"series":"F8182 Analysis","seg":"a1"},
        {"hour":4.04,"dp":28.47,"series":"F8182 Analysis","seg":"a1"},
        {"hour":4.26,"dp":28.13,"series":"F8182 Analysis","seg":"a1"},
        {"hour":4.47,"dp":27.80,"series":"F8182 Analysis","seg":"a1"},
        {"hour":4.67,"dp":27.47,"series":"F8182 Analysis","seg":"a1"},
        {"hour":4.88,"dp":27.36,"series":"F8182 Analysis","seg":"a1"},
        {"hour":5.29,"dp":27.29,"series":"F8182 Analysis","seg":"a1"},
        {"hour":5.72,"dp":27.27,"series":"F8182 Analysis","seg":"a1"},
        {"hour":5.92,"dp":27.20,"series":"F8182 Analysis","seg":"a1"},
        {"hour":6.13,"dp":27.07,"series":"F8182 Analysis","seg":"a1"},
        {"hour":6.35,"dp":26.93,"series":"F8182 Analysis","seg":"a1"},
        {"hour":6.55,"dp":26.83,"series":"F8182 Analysis","seg":"a1"},
        {"hour":6.76,"dp":26.69,"series":"F8182 Analysis","seg":"a1"},
        {"hour":7.17,"dp":26.64,"series":"F8182 Analysis","seg":"a1"},
        {"hour":7.60,"dp":26.60,"series":"F8182 Analysis","seg":"a1"},
        {"hour":7.80,"dp":26.56,"series":"F8182 Analysis","seg":"a1"},
        {"hour":8.01,"dp":26.43,"series":"F8182 Analysis","seg":"a1"},
        {"hour":8.22,"dp":26.29,"series":"F8182 Analysis","seg":"a1"},
        {"hour":8.42,"dp":26.20,"series":"F8182 Analysis","seg":"a1"},
        {"hour":8.64,"dp":26.10,"series":"F8182 Analysis","seg":"a1"},
        {"hour":8.92,"dp":26.00,"series":"F8182 Analysis","seg":"a1"},
        {"hour":9.26,"dp":25.92,"series":"F8182 Analysis","seg":"a1"},
        {"hour":9.60,"dp":25.83,"series":"F8182 Analysis","seg":"a1"},
        {"hour":9.89,"dp":25.73,"series":"F8182 Analysis","seg":"a1"},
        {"hour":10.10,"dp":25.60,"series":"F8182 Analysis","seg":"a1"},
        {"hour":10.30,"dp":25.40,"series":"F8182 Analysis","seg":"a1"},
        {"hour":10.51,"dp":25.20,"series":"F8182 Analysis","seg":"a1"},
        {"hour":10.73,"dp":25.04,"series":"F8182 Analysis","seg":"a1"},
        {"hour":10.93,"dp":24.93,"series":"F8182 Analysis","seg":"a1"},
        {"hour":11.14,"dp":24.77,"series":"F8182 Analysis","seg":"a1"},
        {"hour":11.35,"dp":24.56,"series":"F8182 Analysis","seg":"a1"},
        {"hour":11.55,"dp":24.40,"series":"F8182 Analysis","seg":"a1"},
        {"hour":11.76,"dp":24.24,"series":"F8182 Analysis","seg":"a1"},
        {"hour":12.27,"dp":24.24,"series":"F8182 Analysis","seg":"a1"},
        {"hour":12.52,"dp":24.29,"series":"F8182 Analysis","seg":"a1"},
        {"hour":13.02,"dp":24.29,"series":"F8182 Analysis","seg":"a1"},
        {"hour":35.01,"dp":22.71,"series":"F8182 Analysis","seg":"a2"},
        {"hour":35.26,"dp":22.87,"series":"F8182 Analysis","seg":"a2"},
        {"hour":35.46,"dp":23.00,"series":"F8182 Analysis","seg":"a2"},
        {"hour":35.67,"dp":23.13,"series":"F8182 Analysis","seg":"a2"},
        {"hour":35.88,"dp":23.23,"series":"F8182 Analysis","seg":"a2"},
        {"hour":36.08,"dp":23.33,"series":"F8182 Analysis","seg":"a2"},
        {"hour":36.30,"dp":23.47,"series":"F8182 Analysis","seg":"a2"},
        {"hour":36.51,"dp":23.57,"series":"F8182 Analysis","seg":"a2"},
        {"hour":36.71,"dp":23.60,"series":"F8182 Analysis","seg":"a2"},
        {"hour":37.01,"dp":23.60,"series":"F8182 Analysis","seg":"a2"},
        {"hour":48.69,"dp":22.11,"series":"F8182 Analysis","seg":"a3"},
        {"hour":49.02,"dp":22.08,"series":"F8182 Analysis","seg":"a3"},
        {"hour":49.22,"dp":21.87,"series":"F8182 Analysis","seg":"a3"},
        {"hour":49.44,"dp":21.60,"series":"F8182 Analysis","seg":"a3"},
        {"hour":49.65,"dp":21.36,"series":"F8182 Analysis","seg":"a3"},
        {"hour":49.85,"dp":21.53,"series":"F8182 Analysis","seg":"a3"},
        {"hour":50.15,"dp":21.67,"series":"F8182 Analysis","seg":"a3"},
        {"hour":50.48,"dp":21.80,"series":"F8182 Analysis","seg":"a3"},
        {"hour":50.81,"dp":21.80,"series":"F8182 Analysis","seg":"a3"},
        {"hour":51.10,"dp":21.73,"series":"F8182 Analysis","seg":"a3"},
        {"hour":51.40,"dp":21.71,"series":"F8182 Analysis","seg":"a3"},
        {"hour":51.73,"dp":21.67,"series":"F8182 Analysis","seg":"a3"},
        {"hour":52.03,"dp":21.68,"series":"F8182 Analysis","seg":"a3"},
        {"hour":52.23,"dp":22.13,"series":"F8182 Analysis","seg":"a3"},
        {"hour":52.44,"dp":22.67,"series":"F8182 Analysis","seg":"a3"},
        {"hour":52.65,"dp":23.07,"series":"F8182 Analysis","seg":"a3"},
        {"hour":52.98,"dp":23.04,"series":"F8182 Analysis","seg":"a3"},
        {"hour":53.28,"dp":22.93,"series":"F8182 Analysis","seg":"a3"},
        {"hour":53.69,"dp":22.87,"series":"F8182 Analysis","seg":"a3"},
        {"hour":54.03,"dp":23.13,"series":"F8182 Analysis","seg":"a3"},
        {"hour":54.32,"dp":23.40,"series":"F8182 Analysis","seg":"a3"},
        {"hour":54.57,"dp":23.60,"series":"F8182 Analysis","seg":"a3"},
        {"hour":54.82,"dp":23.71,"series":"F8182 Analysis","seg":"a3"},
        {"hour":55.16,"dp":23.80,"series":"F8182 Analysis","seg":"a3"},
        {"hour":55.48,"dp":23.93,"series":"F8182 Analysis","seg":"a3"},
        {"hour":55.78,"dp":24.03,"series":"F8182 Analysis","seg":"a3"},
        {"hour":55.98,"dp":23.84,"series":"F8182 Analysis","seg":"a3"},
        {"hour":56.32,"dp":23.76,"series":"F8182 Analysis","seg":"a3"},
        {"hour":56.70,"dp":23.67,"series":"F8182 Analysis","seg":"a3"},
        {"hour":57.03,"dp":23.33,"series":"F8182 Analysis","seg":"a3"},
        {"hour":57.32,"dp":23.44,"series":"F8182 Analysis","seg":"a3"},
        {"hour":57.66,"dp":23.57,"series":"F8182 Analysis","seg":"a3"},
        {"hour":57.98,"dp":23.29,"series":"F8182 Analysis","seg":"a3"},
        {"hour":58.29,"dp":23.53,"series":"F8182 Analysis","seg":"a3"},
        {"hour":58.70,"dp":23.84,"series":"F8182 Analysis","seg":"a3"},
        {"hour":58.99,"dp":23.47,"series":"F8182 Analysis","seg":"a3"},
        {"hour":59.32,"dp":23.24,"series":"F8182 Analysis","seg":"a3"},
        {"hour":59.66,"dp":23.04,"series":"F8182 Analysis","seg":"a3"},
        {"hour":59.95,"dp":23.04,"series":"F8182 Analysis","seg":"a3"},
        {"hour":60.24,"dp":23.33,"series":"F8182 Analysis","seg":"a3"},
        {"hour":60.49,"dp":23.73,"series":"F8182 Analysis","seg":"a3"},
        {"hour":60.66,"dp":23.89,"series":"F8182 Analysis","seg":"a3"},
        {"hour":60.86,"dp":23.92,"series":"F8182 Analysis","seg":"a3"}
      ]},
      "mark": {"type": "line", "strokeWidth": 1, "clip": true},
      "encoding": {
        "x": {"field": "hour", "type": "quantitative", "scale": {"domain": [0, 72], "nice": false, "zero": false},
              "axis": {"orient": "bottom", "title": null, "values": [0,2,4,6,8,10,12,14,16,18,20,22,24,26,28,30,32,34,36,38,40,42,44,46,48,50,52,54,56,58,60,62,64,66,68,70,72],
                       "labelExpr": "datum.value % 6 == 0 ? ['04/' + (16 + floor(datum.value / 24)), (datum.value % 24 < 10 ? '0' : '') + (datum.value % 24) + ':00'] : ''",
                       "tickSize": -6, "labelPadding": 13, "labelLineHeight": 14, "labelBaseline": "top"}},
        "y": {"field": "dp", "type": "quantitative", "scale": {"domain": [16, 32], "nice": false, "zero": false},
              "axis": {"orient": "left", "title": "degrees F", "values": [16,18,20,22,24,26,28,30,32], "tickSize": -6, "labelPadding": 11, "titlePadding": 12}},
        "color": {"field": "series", "type": "nominal", "scale": {"domain": ["F8182 Analysis", "F8182"], "range": ["#ff0000", "#0a84ff"]},
                  "legend": {"orient": "none", "legendX": 546, "legendY": 6, "title": null, "symbolType": "M-4,0H4", "symbolSize": 49, "symbolStrokeWidth": 1, "symbolFillColor": "transparent", "labelAlign": "right", "labelOffset": -28, "labelFont": "DejaVu Sans Mono", "labelFontSize": 10, "labelColor": "black", "rowPadding": 3, "padding": 0,
                             "encode": {"symbols": {"update": {"stroke": {"scale": "color", "field": "value"}, "fill": {"value": "transparent"}}}}}},
        "detail": {"field": "seg", "type": "nominal"}
      }
    },
    {
      "data": {"values": [
        {"hour": 1.84, "event": "Sunset"},
        {"hour": 12.68, "event": "Sunrise"},
        {"hour": 25.69, "event": "Sunset"},
        {"hour": 36.58, "event": "Sunrise"},
        {"hour": 49.72, "event": "Sunset"},
        {"hour": 60.61, "event": "Sunrise"}
      ]},
      "mark": {"type": "rule", "color": "black", "strokeWidth": 1},
      "encoding": {
        "x": {"field": "hour", "type": "quantitative", "scale": {"domain": [0, 72], "nice": false, "zero": false},
              "axis": {"orient": "top", "title": null, "labels": false, "values": [0,2,4,6,8,10,12,14,16,18,20,22,24,26,28,30,32,34,36,38,40,42,44,46,48,50,52,54,56,58,60,62,64,66,68,70,72], "tickSize": -6}},
        "y": {"datum": 29.64, "type": "quantitative", "scale": {"domain": [16, 32], "nice": false, "zero": false},
              "axis": {"orient": "right", "title": null, "labels": false, "values": [16,18,20,22,24,26,28,30,32], "tickSize": -6}},
        "y2": {"datum": 16}
      }
    },
    {
      "data": {"values": [
        {"hour": 1.84, "event": "Sunset"},
        {"hour": 12.68, "event": "Sunrise"},
        {"hour": 25.69, "event": "Sunset"},
        {"hour": 36.58, "event": "Sunrise"},
        {"hour": 49.72, "event": "Sunset"},
        {"hour": 60.61, "event": "Sunrise"}
      ]},
      "mark": {"type": "text", "angle": 270, "align": "left", "baseline": "middle", "font": "DejaVu Sans Mono", "fontSize": 10, "color": "black", "dy": 1},
      "encoding": {
        "x": {"field": "hour", "type": "quantitative", "scale": {"domain": [0, 72], "nice": false, "zero": false}, "axis": null},
        "y": {"datum": 29.92, "type": "quantitative", "scale": {"domain": [16, 32], "nice": false, "zero": false}, "axis": null},
        "text": {"field": "event"}
      }
    }
  ]
}
